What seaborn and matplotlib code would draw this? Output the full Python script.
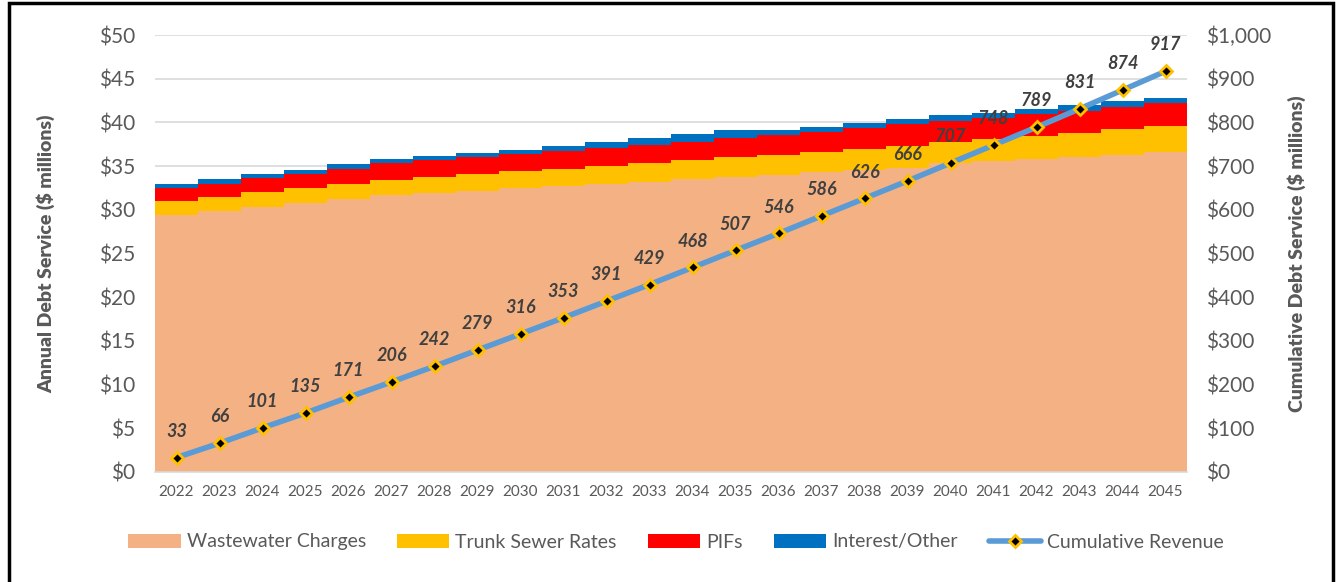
import numpy as np
import pandas as pd
import matplotlib
matplotlib.use("Agg")
import matplotlib.pyplot as plt
from matplotlib.patches import Patch, Rectangle
from matplotlib.lines import Line2D
import seaborn as sns

years = [str(y) for y in range(2022, 2046)]
wastewater = [29.4, 29.9, 30.3, 30.8, 31.2, 31.65, 31.9, 32.2, 32.45, 32.7, 32.9, 33.2,
              33.5, 33.75, 33.95, 34.3, 34.55, 34.8, 35.3, 35.55, 35.8, 36.0, 36.3, 36.6]
trunk_sewer = [1.6, 1.6, 1.7, 1.65, 1.75, 1.8, 1.85, 1.9, 1.95, 2.0, 2.1, 2.1,
               2.15, 2.25, 2.35, 2.35, 2.4, 2.55, 2.45, 2.55, 2.65, 2.8, 2.9, 3.0]
pifs = [1.5, 1.5, 1.6, 1.7, 1.75, 1.85, 1.95, 1.9, 1.95, 2.0, 2.1, 2.15,
        2.15, 2.2, 2.25, 2.3, 2.45, 2.45, 2.45, 2.45, 2.5, 2.55, 2.55, 2.6]
interest = [0.45, 0.5, 0.5, 0.45, 0.5, 0.5, 0.5, 0.5, 0.45, 0.6, 0.65, 0.75,
            0.9, 0.9, 0.55, 0.55, 0.55, 0.6, 0.6, 0.55, 0.6, 0.65, 0.65, 0.6]
cumulative = [33, 66, 101, 135, 171, 206, 242, 279, 316, 353, 391, 429,
              468, 507, 546, 586, 626, 666, 707, 748, 789, 831, 874, 917]

series_names = ["Wastewater Charges", "Trunk Sewer Rates", "PIFs", "Interest/Other"]
series_colors = ["#F4B183", "#FFC000", "#FF0000", "#0070C0"]
line_color = "#5B9BD5"
marker_color = "#FFC000"
text_gray = "#595959"
label_gray = "#404040"

sns.set_theme(style="white")
plt.rcParams["font.family"] = ["Lato", "DejaVu Sans"]

df = pd.DataFrame({"Year": years, "Wastewater Charges": wastewater,
                   "Trunk Sewer Rates": trunk_sewer, "PIFs": pifs,
                   "Interest/Other": interest, "Cumulative": cumulative})

fig = plt.figure(figsize=(13.38, 5.82), dpi=100)
W, H = 1338, 582
ax = fig.add_axes([155 / W, 1 - 472 / H, (1187 - 155) / W, (472 - 35) / H])

# stacked bars: draw cumulative heights from top layer down
stack = df[series_names].cumsum(axis=1)
for name, color in reversed(list(zip(series_names, series_colors))):
    sns.barplot(data=df, x="Year", y=stack[name], color=color, width=1.0,
                saturation=1, linewidth=0, ax=ax)

ax.set_xlim(-0.5, len(years) - 0.5)
ax.set_ylim(0, 50)
ax.set_yticks(np.arange(0, 51, 5))
ax.set_yticklabels([f"${v}" for v in range(0, 51, 5)])
ax.yaxis.grid(True, color="#D9D9D9", linewidth=1.2)
ax.set_axisbelow(True)
for s in ["top", "right", "left"]:
    ax.spines[s].set_visible(False)
ax.spines["bottom"].set_color("#D9D9D9")
ax.spines["bottom"].set_linewidth(1.2)
ax.tick_params(axis="y", labelsize=15, labelcolor=text_gray, length=0, pad=14)
ax.tick_params(axis="x", labelsize=11, labelcolor=text_gray, length=0, pad=9)
ax.set_xlabel("")
ax.set_ylabel("Annual Debt Service ($ millions)", fontsize=14, fontweight="heavy",
              color=text_gray, labelpad=32)

ax2 = ax.twinx()
xpos = np.arange(len(years))
ax2.plot(xpos, cumulative, color=line_color, linewidth=4, solid_capstyle="round",
         marker="D", markersize=6, markerfacecolor="black",
         markeredgecolor=marker_color, markeredgewidth=2, zorder=5)
ax2.set_ylim(0, 1000)
ax2.set_yticks(np.arange(0, 1001, 100))
ax2.set_yticklabels([f"${v:,}" for v in range(0, 1001, 100)])
for s in ["top", "right", "left", "bottom"]:
    ax2.spines[s].set_visible(False)
ax2.tick_params(axis="y", labelsize=15, labelcolor=text_gray, length=0, pad=14)
ax2.set_ylabel("Cumulative Debt Service ($ millions)", fontsize=14, fontweight="heavy",
               color=text_gray, labelpad=11)
ax2.grid(False)
for x, v in zip(xpos, cumulative):
    ax2.annotate(f"{v}", (x, v), xytext=(0, 19), textcoords="offset points",
                 ha="center", va="center", fontsize=13, fontweight="bold",
                 fontstyle="italic", color=label_gray, zorder=6)

handles = [Patch(facecolor=c, edgecolor="none", label=n)
           for n, c in zip(series_names, series_colors)]
handles.append(Line2D([0], [0], color=line_color, linewidth=4, marker="D",
                      markersize=6, markerfacecolor="black",
                      markeredgecolor=marker_color, markeredgewidth=2,
                      label="Cumulative Revenue"))
fig.legend(handles=handles, loc="center", bbox_to_anchor=(676 / W, 1 - 542 / H),
           ncol=5, frameon=False, fontsize=14, handlelength=2.7,
           handleheight=0.7, handletextpad=0.3, columnspacing=1.6,
           labelcolor=text_gray)

fig.patches.append(Rectangle((9 / W, -0.05), (1333 - 9) / W, 1.05 - 3 / H,
                             transform=fig.transFigure, fill=False,
                             edgecolor="black", linewidth=2.5))

fig.savefig("out.png", dpi=100)
